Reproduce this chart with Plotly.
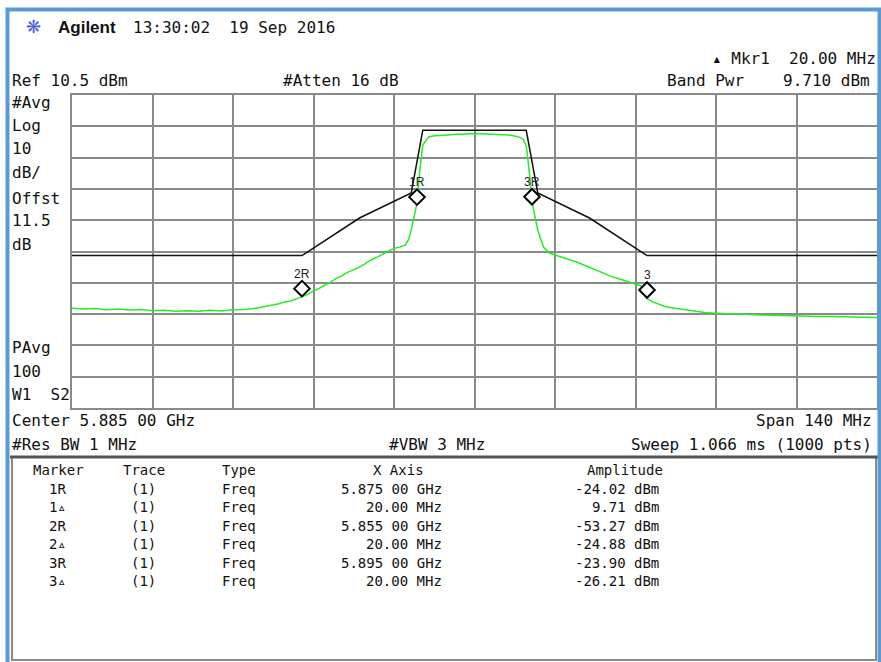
import plotly.graph_objects as go

# ---------------- data ----------------
CENTER_GHZ = 5.885
SPAN_MHZ = 140
REF_DBM = 10.5
DB_PER_DIV = 10

# green measured trace (offset from centre in MHz, level in dBm)
trace_offset_mhz = [-70, -68, -66, -64, -62, -60, -58, -56, -54, -52, -50, -48, -46, -44, -42, -40,
                    -38, -37, -36, -35, -34, -33, -32, -31, -30, -29, -28, -27, -26, -25, -24, -23,
                    -22, -21, -20, -19, -18, -17, -16, -15, -14, -13, -12, -11.5, -11, -10.5, -10,
                    -9.5, -9, -8, -7, -6, -5, -4, -3, -2, -1, 0, 1, 2, 3, 4, 5, 6, 7, 8, 8.5, 9, 9.5,
                    10, 10.5, 11, 11.5, 12, 13, 14, 15, 16, 17, 18, 19, 20, 21, 22, 23, 24, 25, 26,
                    27, 28, 29, 29.5, 30, 31, 32, 33, 34, 35, 36, 37, 38, 39, 40, 42, 44, 46, 48, 50,
                    52, 55, 58, 60, 62, 65, 68, 70]
trace_dbm = [-57.6, -57.9, -57.7, -58.1, -57.9, -58.2, -58.0, -58.4, -58.3, -58.6, -58.4, -58.6,
             -58.3, -58.5, -58.1, -58.0, -57.6, -57.3, -57.0, -56.6, -56.2, -55.6, -55.3, -54.7,
             -54.0, -53.2, -52.1, -51.3, -50.2, -49.3, -48.0, -47.2, -46.1, -45.4, -44.5, -43.4,
             -42.2, -41.4, -40.3, -39.4, -38.5, -38.1, -37.4, -35.8, -32.6, -28.8, -24.0, -13.5,
             -5.5, -2.9, -2.5, -2.4, -2.2, -2.1, -2.0, -2.0, -1.8, -1.8, -1.9, -2.0, -1.9, -2.1,
             -2.2, -2.3, -2.6, -3.1, -3.8, -5.8, -13.5, -23.5, -28.2, -32.6, -35.5, -38.1, -40.0,
             -40.6, -41.1, -41.6, -42.2, -43.0, -43.8, -44.6, -45.4, -46.2, -47.0, -47.6, -48.1,
             -48.7, -49.2, -49.9, -50.5, -53.0, -54.5, -55.6, -56.4, -57.0, -57.4, -57.7, -58.0,
             -58.3, -58.5, -58.8, -59.0, -59.2, -59.4, -59.6, -59.7, -59.8, -59.9, -60.1, -60.2,
             -60.3, -60.3, -60.4, -60.5, -60.6]

# black spectrum mask (offset MHz, dB relative to in-band reference)
mask_offset_mhz = [-70, -30, -20, -11, -9, 9, 11, 20, 30, 70]
mask_dbr = [-40, -40, -28, -20, 0, 0, -20, -28, -40, -40]
mask_ref_dbm = -0.8

# on-screen markers
marker_names = ["1R", "2R", "3R", "3"]
marker_freq_ghz = [5.875, 5.855, 5.895, 5.915]
marker_dbm = [-24.02, -53.27, -23.90, -53.7]

# marker table
tbl_marker = ["1R", "1\u25b5", "2R", "2\u25b5", "3R", "3\u25b5"]
tbl_trace = ["(1)", "(1)", "(1)", "(1)", "(1)", "(1)"]
tbl_type = ["Freq", "Freq", "Freq", "Freq", "Freq", "Freq"]
tbl_xaxis = ["5.875 00 GHz", "20.00 MHz", "5.855 00 GHz", "20.00 MHz", "5.895 00 GHz", "20.00 MHz"]
tbl_amp = ["-24.02 dBm", "9.71 dBm", "-53.27 dBm", "-24.88 dBm", "-23.90 dBm", "-26.21 dBm"]

# ---------------- figure ----------------
W, H = 881, 662
MONO = "DejaVu Sans Mono"
GRID = "#8a8a8a"

def px(x):
    return x / W

def py(y):
    return 1 - y / H

f_lo = CENTER_GHZ - SPAN_MHZ / 2000
f_hi = CENTER_GHZ + SPAN_MHZ / 2000
y_lo = REF_DBM - 10 * DB_PER_DIV

fig = go.Figure()

fig.add_trace(go.Scatter(
    x=[CENTER_GHZ + o / 1000 for o in mask_offset_mhz],
    y=[mask_ref_dbm + d for d in mask_dbr],
    mode="lines", line=dict(color="#111111", width=1.5), hoverinfo="skip"))

fig.add_trace(go.Scatter(
    x=[CENTER_GHZ + o / 1000 for o in trace_offset_mhz],
    y=trace_dbm,
    mode="lines", line=dict(color="#22ee22", width=1.5), hoverinfo="skip"))

# diamond markers: bottom tip sits on the marker amplitude
DIAMOND_HALF_DB = 1.9
fig.add_trace(go.Scatter(
    x=marker_freq_ghz,
    y=[a + DIAMOND_HALF_DB for a in marker_dbm],
    mode="markers",
    marker=dict(symbol="diamond", size=12, color="white", line=dict(color="black", width=2)),
    hoverinfo="skip"))

for name, f, a in zip(marker_names, marker_freq_ghz, marker_dbm):
    fig.add_annotation(x=f, y=a, xref="x", yref="y", text=name, showarrow=False,
                       yshift=21, font=dict(family="Liberation Sans", size=12, color="#222"))

fig.update_xaxes(range=[f_lo, f_hi], dtick=(f_hi - f_lo) / 10, tick0=f_lo,
                 showgrid=True, gridcolor=GRID, gridwidth=1.5, showticklabels=False,
                 zeroline=False, showline=True, linecolor=GRID, linewidth=2, mirror=True,
                 ticks="", domain=[px(72), px(877)])
fig.update_yaxes(range=[y_lo, REF_DBM], dtick=DB_PER_DIV, tick0=REF_DBM,
                 showgrid=True, gridcolor=GRID, gridwidth=1.5, showticklabels=False,
                 zeroline=False, showline=True, linecolor=GRID, linewidth=2, mirror=True,
                 ticks="", domain=[py(408), py(95)])

def txt(x, y, s, anchor="left", size=16, family=MONO, color="#111", bold=False):
    if bold:
        s = "<b>" + s + "</b>"
    fig.add_annotation(x=px(x), y=py(y), xref="paper", yref="paper", text=s,
                       showarrow=False, xanchor=anchor, yanchor="middle",
                       font=dict(family=family, size=size, color=color))

# header
txt(24, 26, "\u274b", size=18, family="DejaVu Sans", color="#4a63d8")
txt(56, 27, "Agilent", size=17, family="Liberation Sans", bold=True)
txt(131, 27, "13:30:02  19 Sep 2016")
txt(878, 58, "\u25b4 Mkr1  20.00 MHz", anchor="right")
txt(10, 80, "Ref 10.5 dBm")
txt(281, 80, "#Atten 16 dB")
txt(665, 80, "Band Pwr")
txt(872, 80, "9.710 dBm", anchor="right")

# left side labels
for s, y in [("#Avg", 103), ("Log", 126), ("10", 149), ("dB/", 172), ("Offst", 198),
             ("11.5", 221), ("dB", 244), ("PAvg", 348), ("100", 371), ("W1  S2", 394)]:
    txt(10, y, s)

# footer
txt(10, 420, "Center 5.885 00 GHz")
txt(874, 420, "Span 140 MHz", anchor="right")
txt(10, 444, "#Res BW 1 MHz")
txt(387, 444, "#VBW 3 MHz")
txt(874, 444, "Sweep 1.066 ms (1000 pts)", anchor="right")

# table
TS = 14
txt(31, 470, "Marker", size=TS)
txt(121, 470, "Trace", size=TS)
txt(220, 470, "Type", size=TS)
txt(371, 470, "X Axis", size=TS)
txt(585, 470, "Amplitude", size=TS)
row_y = [489, 507, 526, 544, 563, 581]
for i, y in enumerate(row_y):
    txt(47, y, tbl_marker[i], size=TS)
    txt(129, y, tbl_trace[i], size=TS)
    txt(220, y, tbl_type[i], size=TS)
    txt(444, y, tbl_xaxis[i], anchor="right", size=TS)
    txt(661, y, tbl_amp[i], anchor="right", size=TS)

shapes = [
    # table box
    dict(type="rect", xref="paper", yref="paper", x0=px(12), x1=px(876), y0=py(660), y1=py(457),
         line=dict(color="#8a8a8a", width=2)),
    dict(type="line", xref="paper", yref="paper", x0=px(10), x1=px(878), y0=py(457), y1=py(457),
         line=dict(color="#555555", width=3)),
    # blue window frame
    dict(type="path", xref="paper", yref="paper",
         path=f"M {px(7.5)} {py(662)} L {px(7.5)} {py(9.5)} L {px(879.5)} {py(9.5)} L {px(879.5)} {py(662)}",
         line=dict(color="#5b9bd5", width=4)),
]

fig.update_layout(width=W, height=H, margin=dict(l=0, r=0, t=0, b=0), autosize=False,
                  paper_bgcolor="white", plot_bgcolor="white", showlegend=False,
                  shapes=shapes)

fig.write_html("out.html", config={"displayModeBar": False},
               post_script="document.body.style.margin='0';document.body.style.overflow='hidden';")
